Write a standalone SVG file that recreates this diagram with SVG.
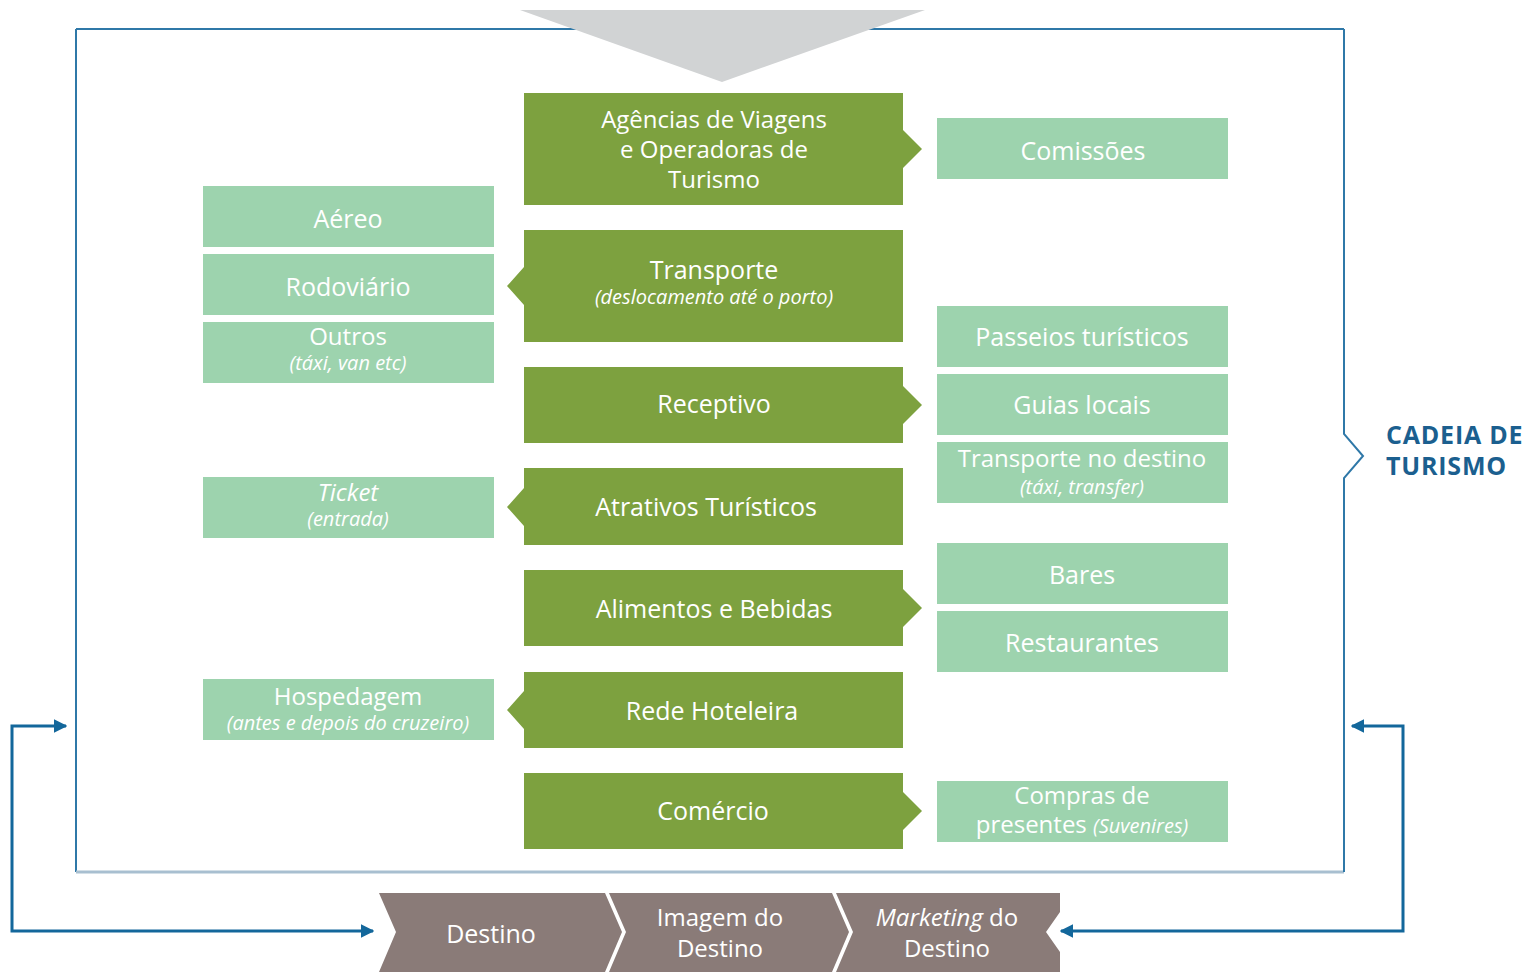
<svg xmlns="http://www.w3.org/2000/svg" width="1533" height="973" viewBox="0 0 1533 973">
<defs>
<style>
.g{fill:#7da13f}
.l{fill:#9dd3ae}
.b{fill:#8a7b78}
text{font-family:"Open Sans","Noto Sans","Liberation Sans",sans-serif;fill:#ffffff;text-anchor:middle}
.t{font-size:25px;font-weight:500}
.m{font-size:24px;font-weight:500}
.s{font-size:20px;font-style:italic}
.ti{font-size:25px;font-weight:bold;fill:#1b5f8f;text-anchor:start;letter-spacing:0.8px}
.fr{fill:none;stroke:#2f78a8;stroke-width:2}
.cn{fill:none;stroke:#13679b;stroke-width:3}
</style>
<marker id="ah" viewBox="0 0 10 10" refX="9" refY="5" markerWidth="4.5" markerHeight="4.5" orient="auto-start-reverse" markerUnits="strokeWidth">
<path d="M0,0 L10,5 L0,10 Z" fill="#13679b"/>
</marker>
</defs>
<rect width="1533" height="973" fill="#ffffff"/>

<g id="frame">
<line x1="76" y1="29" x2="1344" y2="29" class="fr"/>
<line x1="76" y1="29" x2="76" y2="872" class="fr"/>
<line x1="76" y1="872" x2="1344" y2="872" stroke="#a8bfd0" stroke-width="3"/>
<path d="M1344,29 V434 L1363,456 L1344,478 V872" class="fr"/>
</g>
<g id="top-arrow">
<polygon points="520,10 925,10 722,82" fill="#d1d3d4"/>
</g>
<g id="title">
<text class="ti" x="1386" y="444">CADEIA DE</text>
<text class="ti" x="1386" y="475">TURISMO</text>
</g>

<g id="agencias">
<path class="g" d="M524,93 H903 V130 L922,149 L903,168 V205 H524 Z"/>
<text class="m" x="714" y="128">Agências de  Viagens</text>
<text class="m" x="714" y="158">e Operadoras de</text>
<text class="m" x="714" y="188">Turismo</text>
</g>
<g id="transporte">
<path class="g" d="M524,230 H903 V342 H524 V305 L507,286 L524,267 Z"/>
<text class="t" x="714" y="279">Transporte</text>
<text class="s" x="714" y="304">(deslocamento até o porto)</text>
</g>
<g id="receptivo">
<path class="g" d="M524,367 H903 V386 L922,405 L903,424 V443 H524 Z"/>
<text class="t" x="714" y="413">Receptivo</text>
</g>
<g id="atrativos">
<path class="g" d="M524,468 H903 V545 H524 V526 L507,507 L524,488 Z"/>
<text class="t" x="706" y="516">Atrativos Turísticos</text>
</g>
<g id="alimentos">
<path class="g" d="M524,570 H903 V589 L922,608 L903,627 V646 H524 Z"/>
<text class="t" x="714" y="618">Alimentos e Bebidas</text>
</g>
<g id="rede">
<path class="g" d="M524,672 H903 V748 H524 V729 L507,710 L524,691 Z"/>
<text class="t" x="712" y="720">Rede Hoteleira</text>
</g>
<g id="comercio">
<path class="g" d="M524,773 H903 V792 L922,811 L903,830 V849 H524 Z"/>
<text class="t" x="713" y="820">Comércio</text>
</g>

<g id="aereo"><rect class="l" x="203" y="186" width="291" height="61"/><text class="t" x="348" y="228">Aéreo</text></g>
<g id="rodoviario"><rect class="l" x="203" y="254" width="291" height="61"/><text class="t" x="348" y="296">Rodoviário</text></g>
<g id="outros"><rect class="l" x="203" y="322" width="291" height="61"/><text class="m" x="348" y="345">Outros</text><text class="s" x="348" y="370">(táxi, van etc)</text></g>
<g id="ticket"><rect class="l" x="203" y="477" width="291" height="61"/><text class="m" x="348" y="501" font-style="italic">Ticket</text><text class="s" x="348" y="526">(entrada)</text></g>
<g id="hospedagem"><rect class="l" x="203" y="679" width="291" height="61"/><text class="m" x="348" y="705">Hospedagem</text><text class="s" x="348" y="730">(antes e depois do cruzeiro)</text></g>

<g id="comissoes"><rect class="l" x="937" y="118" width="291" height="61"/><text class="t" x="1083" y="160">Comissões</text></g>
<g id="passeios"><rect class="l" x="937" y="306" width="291" height="61"/><text class="t" x="1082" y="346">Passeios turísticos</text></g>
<g id="guias"><rect class="l" x="937" y="374" width="291" height="61"/><text class="t" x="1082" y="414">Guias locais</text></g>
<g id="transporte-destino"><rect class="l" x="937" y="442" width="291" height="61"/><text class="m" x="1082" y="467">Transporte no destino</text><text class="s" x="1082" y="494">(táxi, transfer)</text></g>
<g id="bares"><rect class="l" x="937" y="543" width="291" height="61"/><text class="t" x="1082" y="584">Bares</text></g>
<g id="restaurantes"><rect class="l" x="937" y="611" width="291" height="61"/><text class="t" x="1082" y="652">Restaurantes</text></g>
<g id="compras"><rect class="l" x="937" y="781" width="291" height="61"/><text class="m" x="1082" y="804">Compras de</text><text class="m" x="1082" y="833">presentes <tspan class="s">(Suvenires)</tspan></text></g>

<g id="destino">
<path class="b" d="M379,893 H605 L622,932 L605,972 H379 L396,932 Z"/>
<text class="t" x="491" y="943">Destino</text>
</g>
<g id="imagem">
<path class="b" d="M609,893 H832 L849,932 L832,972 H609 L626,932 Z"/>
<text class="m" x="720" y="926">Imagem do</text>
<text class="m" x="720" y="957">Destino</text>
</g>
<g id="marketing">
<path class="b" d="M836,893 H1060 V912 L1046,932 L1060,952 V972 H836 L853,932 Z"/>
<text class="m" x="947" y="926"><tspan font-style="italic">Marketing</tspan> do</text>
<text class="m" x="947" y="957">Destino</text>
</g>

<g id="connectors">
<path class="cn" d="M66,726 H12 V931 H373" marker-start="url(#ah)" marker-end="url(#ah)"/>
<path class="cn" d="M1352,726 H1403 V931 H1061" marker-start="url(#ah)" marker-end="url(#ah)"/>
</g>
</svg>
